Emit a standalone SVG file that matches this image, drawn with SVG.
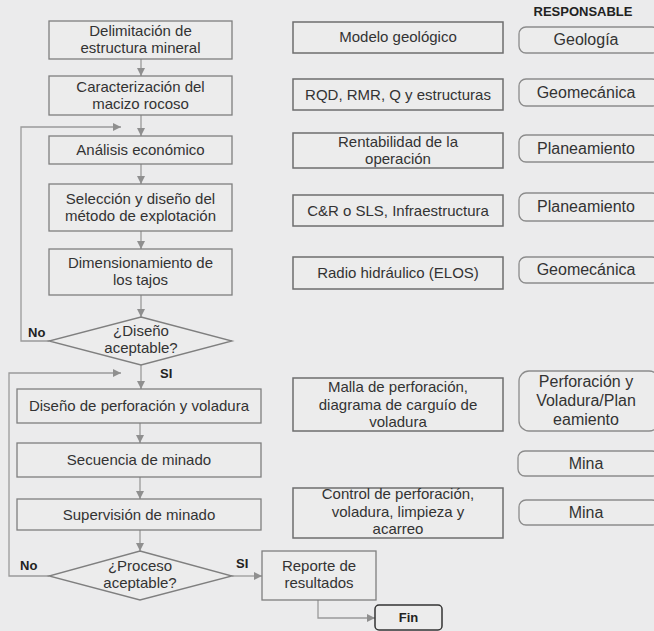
<svg xmlns="http://www.w3.org/2000/svg" width="654" height="631" viewBox="0 0 654 631">
<defs>
<style>
.bg{fill:#ebebec}
.box{fill:#ececec;stroke:#7f7f7f;stroke-width:1.3}
.mid{fill:#ececec;stroke:#6e6e6e;stroke-width:1.5}
.resp{fill:#ececec;stroke:#8c8c8c;stroke-width:1.3}
.fin{fill:#ececec;stroke:#333;stroke-width:1.5}
.t{font-family:"Liberation Sans",Arial,sans-serif;font-size:15px;fill:#333;text-anchor:middle}
.r{font-family:"Liberation Sans",Arial,sans-serif;font-size:16px;fill:#333;text-anchor:middle}
.b{font-family:"Liberation Sans",Arial,sans-serif;font-size:13px;font-weight:bold;fill:#222}
.c{fill:none;stroke:#9a9a9a;stroke-width:1.3}
</style>
<marker id="ah" viewBox="0 0 10 10" refX="10" refY="5" markerWidth="8" markerHeight="8" markerUnits="userSpaceOnUse" orient="auto">
<path d="M0,0 L10,5 L0,10 z" fill="#8f8f8f"/>
</marker>
</defs>
<rect class="bg" x="0" y="0" width="654" height="631"/>
<g id="connectors">
<path class="c" d="M141,59 V76" marker-end="url(#ah)"/>
<path class="c" d="M141,115 V136" marker-end="url(#ah)"/>
<path class="c" d="M141,164 V184" marker-end="url(#ah)"/>
<path class="c" d="M141,231 V249" marker-end="url(#ah)"/>
<path class="c" d="M141,295 V317" marker-end="url(#ah)"/>
<path class="c" d="M49,341 H21 V127 H121" marker-end="url(#ah)"/>
<path class="c" d="M141,365 V389" marker-end="url(#ah)"/>
<path class="c" d="M49,576 H9 V373 H121" marker-end="url(#ah)"/>
<path class="c" d="M140,423 V443" marker-end="url(#ah)"/>
<path class="c" d="M140,477 V499" marker-end="url(#ah)"/>
<path class="c" d="M140,530 V551" marker-end="url(#ah)"/>
<path class="c" d="M232,576 H262" marker-end="url(#ah)"/>
<path class="c" d="M318,600 V618 H375" marker-end="url(#ah)"/>
</g>
<g id="n1"><rect class="box" x="49" y="21" width="183" height="38"/><text class="t" x="140.5" y="36">Delimitación de</text><text class="t" x="140.5" y="53">estructura mineral</text></g>
<g id="n2"><rect class="box" x="49" y="76" width="183" height="39"/><text class="t" x="140.5" y="92">Caracterización del</text><text class="t" x="140.5" y="109">macizo rocoso</text></g>
<g id="n3"><rect class="box" x="49" y="136" width="183" height="28"/><text class="t" x="140.5" y="155">Análisis económico</text></g>
<g id="n4"><rect class="box" x="49" y="184" width="183" height="47"/><text class="t" x="140.5" y="203.5">Selección y diseño del</text><text class="t" x="140.5" y="220.5">método de explotación</text></g>
<g id="n5"><rect class="box" x="49" y="249" width="183" height="46"/><text class="t" x="140.5" y="268">Dimensionamiento de</text><text class="t" x="140.5" y="285">los tajos</text></g>
<g id="d1"><polygon class="box" points="141,317 232,341 141,365 49,341"/><text class="t" x="141" y="336">¿Diseño</text><text class="t" x="141" y="353">aceptable?</text></g>
<g id="n6"><rect class="box" x="17" y="389" width="244" height="34"/><text class="t" x="139" y="411">Diseño de perforación y voladura</text></g>
<g id="n7"><rect class="box" x="17" y="443" width="244" height="34"/><text class="t" x="139" y="465">Secuencia de minado</text></g>
<g id="n8"><rect class="box" x="17" y="499" width="244" height="31"/><text class="t" x="139" y="519.5">Supervisión de minado</text></g>
<g id="d2"><polygon class="box" points="140,551 232,576 140,600 49,576"/><text class="t" x="140" y="571">¿Proceso</text><text class="t" x="140" y="588">aceptable?</text></g>
<g id="n9"><rect class="box" x="262" y="551" width="114" height="49"/><text class="t" x="319" y="571">Reporte de</text><text class="t" x="319" y="588">resultados</text></g>
<g id="fin"><rect class="fin" x="375" y="605" width="67" height="25" rx="4"/><text class="b" x="408.5" y="622" text-anchor="middle">Fin</text></g>
<g id="labels">
<text class="b" x="28" y="337">No</text>
<text class="b" x="160" y="378">SI</text>
<text class="b" x="20" y="570">No</text>
<text class="b" x="236" y="568">SI</text>
<text class="b" x="583" y="16" text-anchor="middle">RESPONSABLE</text>
</g>
<g id="m1"><rect class="mid" x="293" y="22" width="210" height="31"/><text class="t" x="398" y="42">Modelo geológico</text></g>
<g id="m2"><rect class="mid" x="293" y="79" width="210" height="31"/><text class="t" x="398" y="99.5">RQD, RMR, Q y estructuras</text></g>
<g id="m3"><rect class="mid" x="293" y="133" width="210" height="35"/><text class="t" x="398" y="146.5">Rentabilidad de la</text><text class="t" x="398" y="163.5">operación</text></g>
<g id="m4"><rect class="mid" x="293" y="195" width="210" height="31"/><text class="t" x="398" y="215.5">C&amp;R o SLS, Infraestructura</text></g>
<g id="m5"><rect class="mid" x="293" y="257" width="210" height="32"/><text class="t" x="398" y="278">Radio hidráulico (ELOS)</text></g>
<g id="m6"><rect class="mid" x="293" y="378" width="210" height="53"/><text class="t" x="398" y="392">Malla de perforación,</text><text class="t" x="398" y="409.5">diagrama de carguío de</text><text class="t" x="398" y="427">voladura</text></g>
<g id="m7"><rect class="mid" x="293" y="488" width="210" height="50"/><text class="t" x="398" y="499">Control de perforación,</text><text class="t" x="398" y="516.5">voladura, limpieza y</text><text class="t" x="398" y="534">acarreo</text></g>
<g id="r1"><rect class="resp" x="519" y="27" width="140" height="26" rx="7"/><text class="r" x="586" y="45">Geología</text></g>
<g id="r2"><rect class="resp" x="519" y="79" width="140" height="27" rx="7"/><text class="r" x="586" y="97.5">Geomecánica</text></g>
<g id="r3"><rect class="resp" x="519" y="135" width="140" height="27" rx="7"/><text class="r" x="586" y="153.5">Planeamiento</text></g>
<g id="r4"><rect class="resp" x="519" y="193" width="140" height="28" rx="7"/><text class="r" x="586" y="212">Planeamiento</text></g>
<g id="r5"><rect class="resp" x="519" y="257" width="140" height="26" rx="7"/><text class="r" x="586" y="275">Geomecánica</text></g>
<g id="r6"><rect class="resp" x="519" y="371" width="140" height="60" rx="10"/><text class="r" x="586" y="387">Perforación y</text><text class="r" x="586" y="406">Voladura/Plan</text><text class="r" x="586" y="425">eamiento</text></g>
<g id="r7"><rect class="resp" x="518" y="451" width="141" height="25" rx="7"/><text class="r" x="586" y="469">Mina</text></g>
<g id="r8"><rect class="resp" x="519" y="500" width="140" height="25" rx="7"/><text class="r" x="586" y="518">Mina</text></g>
</svg>
